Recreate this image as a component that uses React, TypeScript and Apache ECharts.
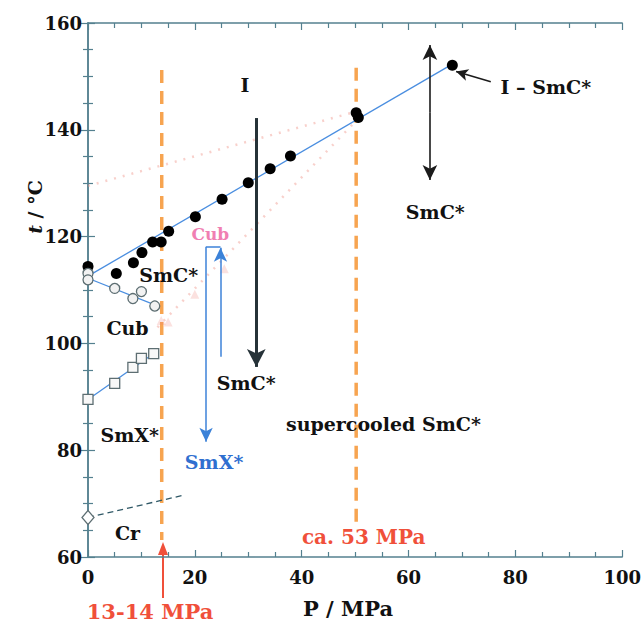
import React, { useEffect, useRef } from "react";
import * as echarts from "echarts";

// I – SmC* transition (filled circles)
const isP = [0, 5.3, 8.5, 10.1, 12.1, 13.7, 15.1, 20.1, 25.1, 30.0, 34.1, 37.9, 50.2, 50.6, 68.2];
const isT = [114.4, 113.1, 115.1, 117.0, 119.0, 119.0, 121.0, 123.7, 127.0, 130.1, 132.7, 135.1, 143.2, 142.3, 152.1];
// SmC* – Cub (open circles)
const scP = [0, 0, 5.0, 8.4, 10.0, 12.5];
const scT = [113.1, 111.9, 110.3, 108.4, 109.7, 107.0];
// Cub – SmX* (open squares)
const cxP = [0, 5.0, 8.4, 10.0, 12.3];
const cxT = [89.5, 92.5, 95.5, 97.2, 98.1];
// Cr (diamond)
const crP = [0];
const crT = [67.4];
// faint triangles
const triP = [13.7, 15.0, 20.0, 25.5];
const triT = [104.3, 104.0, 109.2, 114.0];

// fitted lines
const fitIS = [[0, 112.6], [68.2, 152.3]];
const fitSC = [[0, 112.2], [12.5, 107.2]];
const fitCX = [[0, 89.5], [12.3, 98.1]];
const fitCr = [[0, 67.4], [18, 71.6]];
const pinkA = [[0, 129.5], [50.5, 143.5]];
const pinkB = [[13, 103], [50, 141.5]];
const orangeL = [[13.8, 151.2], [13.8, 63.2]];
const orangeR = [[50.2, 151.6], [50.2, 66.5]];

// labels
const labelTexts = ["I", "SmC*", "Cub", "SmX*", "Cr", "SmC*", "SmX*", "supercooled SmC*", "Cub", "SmC*", "I – SmC*", "ca. 53 MPa"];
const labelP = [29.4, 15.1, 7.4, 7.8, 7.4, 29.6, 23.6, 55.3, 22.9, 65.0, 85.7, 51.6];
const labelT = [148.4, 112.8, 102.9, 82.8, 64.5, 92.6, 77.8, 84.9, 120.5, 124.6, 148.0, 63.7];
const labelColors = ["#111", "#111", "#111", "#111", "#111", "#111", "#2f6fd0", "#111", "#f07fb2", "#111", "#111", "#f0503a"];
const labelSizes = [19, 19, 19, 19, 19, 19, 19, 19, 17, 19, 19, 20];

const xTicks = { min: 0, max: 100, interval: 20 };
const yTicks = { min: 60, max: 160, interval: 20 };

const zip = (a: number[], b: number[]) => a.map((v, i) => [v, b[i]]);

const AX = "#54808f";
const FONT = "DejaVu Serif";

export default function App() {
  const ref = useRef<HTMLDivElement>(null);
  useEffect(() => {
    const chart = echarts.init(ref.current!, null, { renderer: "svg" });
    const axisCommon = (show: boolean) => ({
      axisLine: { show: true, lineStyle: { color: AX, width: 1.5 } },
      axisTick: { show: true, inside: true, length: 7, lineStyle: { color: AX, width: 1.2 } },
      minorTick: { show: true, splitNumber: 4, length: 5, lineStyle: { color: AX, width: 1.2 } },
      splitLine: { show: false },
      minorSplitLine: { show: false },
      axisLabel: { show, color: "#111", fontFamily: FONT, fontWeight: "bold", fontSize: 18 },
    });
    const seg = (a: number[], b: number[], color: string, width: number, symbol: string[], size: number[] = [10, 14]) => ({
      coords: [a, b],
      color, width, symbol, size,
    });
    const arrows = [
      seg([31.5, 142.2], [31.5, 95.6], "#263238", 3, ["none", "arrow"], [14, 18]),
      seg([64.0, 143.2], [64.0, 155.9], "#1b1b1b", 1.6, ["none", "arrow"], [11, 15]),
      seg([64.0, 143.2], [64.0, 130.6], "#1b1b1b", 1.6, ["none", "arrow"], [11, 15]),
      seg([75.4, 149.0], [68.9, 150.9], "#1b1b1b", 1.6, ["none", "arrow"], [9, 12]),
      seg([22.1, 118.1], [22.1, 81.6], "#3c82d8", 1.5, ["none", "arrow"], [10, 14]),
      seg([22.1, 118.1], [24.8, 118.1], "#3c82d8", 1.5, ["none", "none"]),
      seg([24.8, 97.5], [24.8, 117.9], "#3c82d8", 1.5, ["none", "arrow"], [10, 14]),
    ];
    const arrowSeries = arrows.map((a) => ({
      type: "line",
      data: [],
      silent: true,
      markLine: {
        silent: true,
        symbol: a.symbol,
        symbolSize: a.size,
        label: { show: false },
        lineStyle: { color: a.color, width: a.width, type: "solid" },
        data: [[{ coord: a.coords[0] }, { coord: a.coords[1] }]],
      },
    }));
    const lineS = (data: number[][], color: string, width: number, type: any, z = 2) => ({
      type: "line", data, symbol: "none", silent: true, z,
      lineStyle: { color, width, type },
    });
    const option: any = {
      animation: false,
      backgroundColor: "#ffffff",
      grid: { left: 88, top: 23, width: 537, height: 534 },
      xAxis: [
        { type: "value", ...xTicks, ...axisCommon(true), axisLabel: { ...axisCommon(true).axisLabel, margin: 11 } },
        { type: "value", position: "top", ...xTicks, ...axisCommon(false) },
      ],
      yAxis: [
        { type: "value", ...yTicks, ...axisCommon(true), axisLabel: { ...axisCommon(true).axisLabel, margin: 6 } },
        { type: "value", position: "right", ...yTicks, ...axisCommon(false) },
      ],
      graphic: [
        {
          type: "text", x: 35, y: 207, rotation: Math.PI / 2,
          style: {
            text: "{i|t} / °C", fill: "#111", font: `bold 19px "${FONT}"`,
            align: "center", verticalAlign: "middle",
            rich: { i: { fontStyle: "italic", fontWeight: "bold", fontSize: 19, fontFamily: FONT } },
          },
        },
        {
          type: "text", x: 348, y: 608,
          style: { text: "P / MPa", fill: "#111", font: `bold 21px "${FONT}"`, align: "center", verticalAlign: "middle" },
        },
        {
          type: "text", x: 150, y: 611,
          style: { text: "13-14 MPa", fill: "#f0503a", font: `bold 21px "${FONT}"`, align: "center", verticalAlign: "middle" },
        },
        { type: "line", shape: { x1: 163, y1: 598, x2: 163, y2: 552 }, style: { stroke: "#f0503a", lineWidth: 2 } },
        { type: "polygon", shape: { points: [[163, 542], [158, 555], [168, 555]] }, style: { fill: "#f0503a" } },
      ],
      series: [
        lineS(pinkA, "rgba(240,150,140,0.45)", 2.5, [2, 7], 1),
        lineS(pinkB, "rgba(240,150,140,0.45)", 2.5, [2, 7], 1),
        lineS(orangeL, "#f7a450", 3.5, [13, 8], 1),
        lineS(orangeR, "#f7a450", 3.5, [13, 8], 1),
        lineS(fitIS, "#4a8ee0", 1.3, "solid"),
        lineS(fitSC, "#4a8ee0", 1.3, "solid"),
        lineS(fitCX, "#4a8ee0", 1.3, "solid"),
        lineS(fitCr, "#2f5866", 1.3, [6, 4]),
        ...arrowSeries,
        {
          type: "scatter", data: zip(triP, triT), symbol: "triangle", symbolSize: 9, silent: true,
          itemStyle: { color: "rgba(240,130,120,0.3)" },
        },
        {
          type: "scatter", data: zip(isP, isT), symbol: "circle", symbolSize: 11, z: 5, silent: true,
          itemStyle: { color: "#000000", opacity: 1 },
        },
        {
          type: "scatter", data: zip(scP, scT), symbol: "circle", symbolSize: 10, z: 5, silent: true,
          itemStyle: { color: "#f2f2f2", borderColor: "#5d6e72", borderWidth: 1.3, opacity: 1 },
        },
        {
          type: "scatter", data: zip(cxP, cxT), symbol: "rect", symbolSize: 10, z: 5, silent: true,
          itemStyle: { color: "#f8f8f8", borderColor: "#5d6e72", borderWidth: 1.3, opacity: 1 },
        },
        {
          type: "scatter", data: zip(crP, crT), symbol: "diamond", symbolSize: [12, 14], z: 5, silent: true,
          itemStyle: { color: "#ffffff", borderColor: "#5d6e72", borderWidth: 1.3, opacity: 1 },
        },
        {
          type: "scatter", silent: true, z: 6, symbolSize: 1, clip: false,
          itemStyle: { color: "rgba(0,0,0,0)", opacity: 1 },
          data: labelTexts.map((t, i) => ({
            name: t,
            value: [labelP[i], labelT[i]],
            label: { color: labelColors[i], fontSize: labelSizes[i] },
          })),
          label: {
            show: true, position: "inside", formatter: (p: any) => p.name,
            fontFamily: FONT, fontWeight: "bold", fontSize: 19,
            textBorderWidth: 0, textBorderColor: "transparent", opacity: 1,
          },
        },
      ],
    };
    chart.setOption(option);
    return () => chart.dispose();
  }, []);
  return <div ref={ref} style={{ width: 644, height: 629, position: "fixed", left: 0, top: 0 }} />;
}
